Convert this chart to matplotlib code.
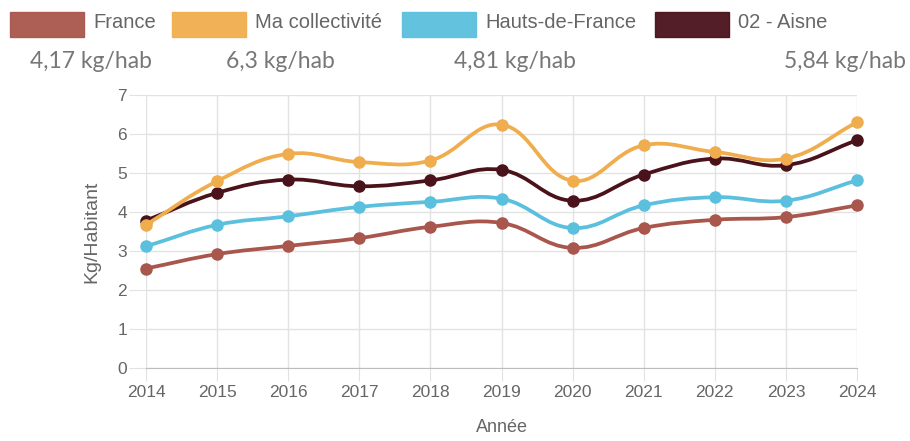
import matplotlib.pyplot as plt
from matplotlib.path import Path
from matplotlib.patches import PathPatch, Rectangle
import numpy as np

years = [2014, 2015, 2016, 2017, 2018, 2019, 2020, 2021, 2022, 2023, 2024]

france = [2.55, 2.92, 3.13, 3.33, 3.62, 3.72, 3.08, 3.59, 3.80, 3.87, 4.17]
ma_collectivite = [3.67, 4.79, 5.49, 5.28, 5.32, 6.24, 4.80, 5.71, 5.54, 5.37, 6.30]
hauts_de_france = [3.12, 3.67, 3.89, 4.13, 4.26, 4.34, 3.59, 4.17, 4.38, 4.29, 4.81]
aisne = [3.78, 4.49, 4.83, 4.66, 4.81, 5.08, 4.29, 4.96, 5.37, 5.20, 5.84]

names = ["France", "Ma collectivité", "Hauts-de-France", "02 - Aisne"]
colors = ["#a9564d", "#f0ad4e", "#5bc0de", "#4a121b"]
latest = ["4,17 kg/hab", "6,3 kg/hab", "4,81 kg/hab", "5,84 kg/hab"]

series = [france, ma_collectivite, hauts_de_france, aisne]

W, H = 910, 441
fig = plt.figure(figsize=(W / 100, H / 100), dpi=100)
# axes box in pixels: x 146..857, y(0) at 368, y(7) at 95
ax = fig.add_axes([146 / W, 1 - 368 / H, (857 - 146) / W, (368 - 95) / H])

# pixel size of one data unit, used to mimic chart.js bezier tension
sx, sy = 71.1, 39.0


def smooth_path(xs, ys, t=0.4):
    pts = np.column_stack([np.array(xs) * sx, np.array(ys) * sy])
    n = len(pts)
    ctrl_prev = [None] * n
    ctrl_next = [None] * n
    for i in range(n):
        p0 = pts[max(i - 1, 0)]
        p1 = pts[i]
        p2 = pts[min(i + 1, n - 1)]
        d01 = np.hypot(*(p1 - p0))
        d12 = np.hypot(*(p2 - p1))
        tot = d01 + d12
        s01 = d01 / tot if tot else 0
        s12 = d12 / tot if tot else 0
        ctrl_prev[i] = p1 - t * s01 * (p2 - p0)
        ctrl_next[i] = p1 + t * s12 * (p2 - p0)
    verts = [pts[0]]
    codes = [Path.MOVETO]
    for i in range(1, n):
        verts += [ctrl_next[i - 1], ctrl_prev[i], pts[i]]
        codes += [Path.CURVE4] * 3
    verts = np.array(verts) / [sx, sy]
    return Path(verts, codes)


# first dataset on top, like chart.js
for k, (vals, c) in enumerate(zip(series, colors)):
    z = 10 - 2 * k
    ax.add_patch(PathPatch(smooth_path(years, vals), fill=False, edgecolor=c,
                           lw=2.7, capstyle="round", joinstyle="round", zorder=z))
    ax.plot(years, vals, "o", color=c, ms=8, zorder=z + 1, clip_on=False)

ax.set_xlim(2014, 2024)
ax.set_ylim(0, 7)
ax.set_xticks(years)
ax.set_yticks(range(0, 8))
ax.grid(True, color="#e2e2e2", lw=1)
ax.set_axisbelow(True)
for s in ["top", "right", "left"]:
    ax.spines[s].set_visible(False)
ax.spines["bottom"].set_color("#bcbcbc")
ax.tick_params(axis="x", colors="#e2e2e2", labelcolor="#666666", labelsize=12.5,
               length=9, pad=3)
ax.tick_params(axis="y", colors="#e2e2e2", labelcolor="#666666", labelsize=12.5,
               length=12, pad=1.5)
for lab in ax.get_xticklabels() + ax.get_yticklabels():
    lab.set_family("Liberation Sans")
ax.set_ylabel("Kg/Habitant", color="#666666", fontsize=14, family="Liberation Sans",
              labelpad=12)
ax.set_xlabel("Année", color="#666666", fontsize=13, family="Liberation Sans",
              labelpad=14)

# legend row
box_x = [10, 172, 402, 655]
for bx, name, c in zip(box_x, names, colors):
    fig.patches.append(Rectangle((bx / W, 1 - 37 / H), 74 / W, 25 / H,
                                 transform=fig.transFigure, facecolor=c,
                                 edgecolor=c, lw=1, alpha=0.95))
    fig.text((bx + 83) / W, 1 - 23 / H, name, color="#666666", fontsize=14.5,
             family="Liberation Sans", va="center", ha="left")

val_x = [91, 280, 515, 845]
for vx, txt in zip(val_x, latest):
    fig.text(vx / W, 1 - 62 / H, txt, color="#777777", fontsize=16.5,
             family="Lato", va="center", ha="center")

fig.savefig("out.png", dpi=100)
